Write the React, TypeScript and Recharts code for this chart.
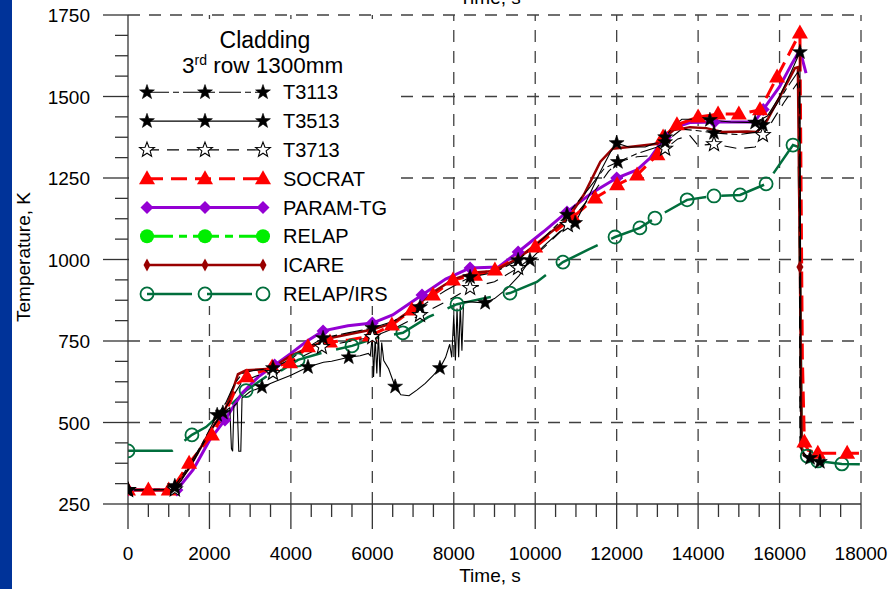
import React from "react";
import { LineChart, Line, XAxis, YAxis, ReferenceLine } from "recharts";

type Pt = [number, number];

// time (s), temperature (K)
const T3113: Pt[] = [
  [0, 293], [1100, 296], [1400, 350], [1800, 430], [2190, 523], [2400, 560], [2600, 615], [2800, 650],
  [3100, 660], [3560, 667], [4000, 695], [4400, 730], [4790, 759], [5400, 775], [6000, 790], [6500, 810],
  [7170, 854], [7800, 905], [8400, 946], [9000, 960], [9580, 998], [10200, 1065], [10780, 1137],
  [11300, 1215], [11700, 1280], [12030, 1299], [12500, 1325], [13000, 1345], [13190, 1360], [13600, 1400],
  [14000, 1395], [14390, 1388], [15000, 1383], [15400, 1390], [15590, 1413], [15900, 1470], [16200, 1530],
  [16450, 1575], [16490, 1560], [16510, 420], [16700, 392], [16900, 382],
];
const T3113_MARKS: Pt[] = [
  [0, 293], [1150, 305], [2190, 523], [3560, 667], [4790, 759], [6000, 790], [7170, 854], [8400, 946],
  [9580, 998], [10780, 1137], [12030, 1299], [13190, 1360], [14390, 1388], [15590, 1413],
];

const T3513: Pt[] = [
  [0, 293], [600, 293], [1100, 295], [1300, 320], [1600, 380], [2000, 470], [2330, 530], [2500, 545],
  [2540, 420], [2570, 412], [2600, 550], [2680, 560], [2720, 412], [2770, 412], [2800, 575], [3000, 595],
  [3290, 609], [3600, 625], [4000, 645], [4420, 670], [4800, 685], [5000, 688], [5420, 700], [5700, 705],
  [5900, 712], [5950, 705], [6000, 765], [6030, 640], [6070, 760], [6110, 650], [6150, 770], [6190, 640],
  [6230, 745], [6280, 690], [6400, 665], [6560, 610], [6700, 585], [6900, 582], [7100, 600], [7300, 620],
  [7500, 645], [7660, 667], [7800, 700], [7900, 740], [7950, 700], [8000, 830], [8040, 690], [8080, 850],
  [8120, 700], [8160, 860], [8200, 720], [8240, 870], [8400, 870], [8770, 867], [9000, 880], [9300, 910],
  [9600, 950], [9870, 998], [10200, 1040], [10600, 1085], [10980, 1112], [11300, 1190], [11600, 1270],
  [11850, 1330], [12000, 1357], [12300, 1345], [12700, 1345], [13000, 1360], [13190, 1375], [13400, 1410],
  [13600, 1430], [14000, 1430], [14290, 1428], [14800, 1422], [15400, 1420], [15700, 1440], [16000, 1500],
  [16300, 1580], [16500, 1636], [16530, 420], [16600, 398], [16750, 391], [16990, 379], [17100, 376],
];
const T3513_MARKS: Pt[] = [
  [0, 293], [1150, 300], [2330, 530], [3290, 609], [4420, 670], [5420, 700], [6560, 610], [7660, 667],
  [8770, 867], [9870, 998], [10980, 1112], [12000, 1357], [13190, 1375], [14290, 1428], [15400, 1420],
  [16500, 1636], [16750, 391], [16990, 379],
];

const T3713: Pt[] = [
  [0, 293], [1150, 295], [1600, 380], [2000, 470], [2500, 565], [2800, 625], [3200, 645], [3600, 652],
  [4000, 685], [4760, 732], [5400, 748], [6000, 762], [6600, 792], [7170, 830], [7800, 870], [8400, 913],
  [9000, 932], [9580, 974], [10200, 1035], [10800, 1106], [11400, 1200], [11800, 1270], [12030, 1299],
  [12500, 1315], [13000, 1320], [13500, 1370], [13800, 1380], [14000, 1350], [14390, 1354], [15000, 1340],
  [15400, 1345], [15590, 1382], [15800, 1420], [16100, 1480], [16430, 1540], [16480, 1500], [16500, 420],
  [16700, 388], [16850, 380],
];
const T3713_MARKS: Pt[] = [
  [0, 293], [1150, 295], [3560, 652], [4760, 732], [6000, 762], [7170, 830], [8400, 913], [9580, 974],
  [10800, 1106], [13190, 1340], [14390, 1354], [15590, 1382],
];

const SOCRAT: Pt[] = [
  [0, 293], [1000, 293], [1100, 300], [1500, 375], [2060, 462], [2500, 560], [2700, 620], [2920, 640],
  [3540, 670], [3980, 683], [4420, 732], [4960, 747], [5420, 753], [5940, 765], [6480, 799], [6970, 845],
  [7490, 891], [7980, 937], [8520, 952], [9010, 968], [10000, 1038], [10930, 1130], [11470, 1189],
  [12010, 1229], [12500, 1259], [13000, 1321], [13140, 1376], [13480, 1413], [14000, 1437], [14490, 1446],
  [15000, 1446], [15520, 1459], [15940, 1560], [16500, 1695], [16560, 700], [16610, 440], [16700, 415],
  [16940, 406], [17660, 406], [17950, 406],
];
const SOCRAT_MARKS: Pt[] = [
  [0, 293], [500, 293], [1000, 293], [1500, 375], [2060, 462], [2920, 640], [3540, 670], [3980, 683],
  [4420, 732], [4960, 747], [5940, 765], [6480, 799], [6970, 845], [7490, 891], [7980, 937], [8520, 952],
  [9010, 968], [10000, 1038], [10930, 1130], [11470, 1189], [12010, 1229], [12500, 1259], [13000, 1321],
  [13140, 1376], [13480, 1413], [14000, 1437], [14490, 1446], [15000, 1446], [15520, 1459], [15940, 1560],
  [16500, 1695], [16610, 440], [16940, 406], [17660, 406],
];

const PARAM_TG: Pt[] = [
  [0, 293], [1200, 293], [1600, 355], [2000, 445], [2380, 508], [2800, 590], [3200, 640], [3600, 676],
  [4000, 712], [4400, 750], [4790, 781], [5400, 797], [6000, 805], [6500, 830], [7220, 891], [7800, 940],
  [8400, 974], [9100, 977], [9580, 1023], [10200, 1085], [10780, 1146], [11400, 1205], [12000, 1250],
  [12500, 1275], [12820, 1311], [13100, 1360], [13380, 1403], [13800, 1420], [14500, 1422], [15350, 1422],
  [15450, 1434], [16000, 1530], [16300, 1600], [16500, 1643], [16650, 1572],
];
const PARAM_TG_MARKS: Pt[] = [
  [0, 293], [1200, 293], [2380, 508], [3600, 676], [4790, 781], [6000, 805], [7220, 891], [8400, 974],
  [9580, 1023], [10780, 1146], [12000, 1250], [13200, 1375], [14400, 1422], [15600, 1460],
];

const RELAP: Pt[] = [];
const RELAP_MARKS: Pt[] = [];

const ICARE: Pt[] = [
  [0, 293], [1100, 293], [1500, 360], [2000, 470], [2400, 545], [2600, 610], [2700, 648], [2900, 660],
  [3500, 665], [4000, 705], [5000, 760], [6000, 785], [6500, 805], [7000, 850], [7500, 900], [8000, 940],
  [8500, 960], [9000, 965], [9600, 1005], [10200, 1065], [10800, 1125], [11200, 1200], [11600, 1300],
  [11900, 1340], [12300, 1345], [13000, 1355], [13400, 1397], [13800, 1406], [14200, 1403], [14600, 1391],
  [15200, 1393], [15450, 1391], [15700, 1428], [16000, 1498], [16380, 1587], [16450, 1590], [16500, 977],
  [16540, 420], [16600, 400], [16800, 390],
];
const ICARE_MARKS: Pt[] = [[16500, 977]];

const RELAP_IRS: Pt[] = [
  [0, 413], [1080, 413], [1570, 462], [1915, 486], [2400, 540], [2900, 598], [3500, 650], [3780, 661],
  [4175, 692], [4800, 715], [5500, 735], [6100, 760], [6750, 775], [7370, 823], [8080, 863], [8700, 880],
  [9380, 897], [10040, 931], [10680, 992], [11300, 1030], [11960, 1069], [12570, 1097], [12940, 1127],
  [13730, 1183], [14390, 1195], [15030, 1198], [15670, 1232], [16330, 1351], [16470, 1345], [16550, 420],
  [16680, 397], [16940, 382], [17530, 373], [18000, 372],
];
const RELAP_IRS_MARKS: Pt[] = [
  [0, 413], [1570, 462], [2900, 598], [4175, 692], [5500, 735], [6750, 775], [8080, 863], [9380, 897],
  [10680, 992], [11960, 1069], [12570, 1097], [12940, 1127], [13730, 1183], [14390, 1195], [15030, 1198],
  [15670, 1232], [16330, 1351], [16680, 397], [16940, 382], [17530, 373],
];

const X_MAJOR = [0, 2000, 4000, 6000, 8000, 10000, 12000, 14000, 16000, 18000];
const Y_MAJOR = [250, 500, 750, 1000, 1250, 1500, 1750];
const X_TICKS = Array.from({ length: 37 }, (_, i) => i * 500);
const Y_TICKS = Array.from({ length: 25 }, (_, i) => 250 + i * 62.5);

const FONT = "Arial, 'Liberation Sans', sans-serif";
const AXIS = "#333";
const GRID = "#404040";

type MarkKind = "star" | "starOpen" | "tri" | "diamond" | "dot" | "thinDiamond" | "ring";

interface Series {
  name: string;
  data: Pt[];
  marks: Pt[];
  color: string;
  width: number;
  dash?: string;
  mark: MarkKind;
}

const SERIES: Series[] = [
  { name: "T3113", data: T3113, marks: T3113_MARKS, color: "#000", width: 1.1, dash: "22 4 6 4", mark: "star" },
  { name: "T3513", data: T3513, marks: T3513_MARKS, color: "#000", width: 1.1, mark: "star" },
  { name: "T3713", data: T3713, marks: T3713_MARKS, color: "#000", width: 1.1, dash: "12 8", mark: "starOpen" },
  { name: "SOCRAT", data: SOCRAT, marks: SOCRAT_MARKS, color: "#ff0000", width: 3, dash: "16 8", mark: "tri" },
  { name: "PARAM-TG", data: PARAM_TG, marks: PARAM_TG_MARKS, color: "#9400d3", width: 3, mark: "diamond" },
  { name: "RELAP", data: RELAP, marks: RELAP_MARKS, color: "#00ee00", width: 3, dash: "26 6 8 6", mark: "dot" },
  { name: "ICARE", data: ICARE, marks: ICARE_MARKS, color: "#990000", width: 2.5, mark: "thinDiamond" },
  { name: "RELAP/IRS", data: RELAP_IRS, marks: RELAP_IRS_MARKS, color: "#006e3c", width: 2.5, dash: "45 15", mark: "ring" },
];

// drawing order: models under experiments
const DRAW_ORDER = ["RELAP/IRS", "RELAP", "PARAM-TG", "SOCRAT", "ICARE", "T3713", "T3113", "T3513"];

const rows = (pts: Pt[]) => pts.map(([t, k]) => ({ t, k }));

function starPath(cx: number, cy: number, R: number, r: number) {
  let d = "";
  for (let i = 0; i < 10; i++) {
    const a = -Math.PI / 2 + (i * Math.PI) / 5;
    const rad = i % 2 === 0 ? R : r;
    d += (i === 0 ? "M" : "L") + (cx + rad * Math.cos(a)).toFixed(2) + "," + (cy + rad * Math.sin(a)).toFixed(2);
  }
  return d + "Z";
}

function Marker({ kind, cx, cy, color }: { kind: MarkKind; cx: number; cy: number; color: string }) {
  if (cx == null || cy == null || isNaN(cx) || isNaN(cy)) return <g />;
  switch (kind) {
    case "star":
      return <path d={starPath(cx, cy, 7.8, 3.1)} fill="#000" stroke="#000" strokeWidth={0.6} />;
    case "starOpen":
      return <path d={starPath(cx, cy, 7.8, 3.3)} fill="#fff" stroke="#000" strokeWidth={1.1} />;
    case "tri":
      return <polygon points={`${cx},${cy - 8.5} ${cx + 8},${cy + 5.5} ${cx - 8},${cy + 5.5}`} fill={color} />;
    case "diamond":
      return <polygon points={`${cx},${cy - 6.5} ${cx + 6.5},${cy} ${cx},${cy + 6.5} ${cx - 6.5},${cy}`} fill={color} />;
    case "dot":
      return <circle cx={cx} cy={cy} r={7} fill={color} />;
    case "thinDiamond":
      return <polygon points={`${cx},${cy - 6.5} ${cx + 3.5},${cy} ${cx},${cy + 6.5} ${cx - 3.5},${cy}`} fill={color} />;
    case "ring":
      return <circle cx={cx} cy={cy} r={6.5} fill="none" stroke={color} strokeWidth={1.8} />;
  }
  return <g />;
}

const XTick = (p: any) => {
  const v = p.payload.value;
  const major = v % 2000 === 0;
  return (
    <g>
      <line x1={p.x} x2={p.x} y1={p.y} y2={p.y + (major ? 25 : 13)} stroke={AXIS} strokeWidth={1.3} />
      {major && (
        <text x={p.x} y={p.y + 56} textAnchor="middle" fontSize={19} fill="#000" fontFamily={FONT}>
          {v}
        </text>
      )}
    </g>
  );
};

const YTick = (p: any) => {
  const v = p.payload.value;
  const major = v % 250 === 0;
  return (
    <g>
      <line x1={p.x - (major ? 25 : 13)} x2={p.x} y1={p.y} y2={p.y} stroke={AXIS} strokeWidth={1.3} />
      {major && (
        <text x={p.x - 38} y={p.y + 7} textAnchor="end" fontSize={19} fill="#000" fontFamily={FONT}>
          {v}
        </text>
      )}
    </g>
  );
};

function LegendBox() {
  const x0 = 147, x1 = 205, x2 = 263;
  return (
    <svg width={888} height={589} style={{ position: "absolute", left: 0, top: 0, pointerEvents: "none" }}>
      <rect x={129} y={19} width={270} height={287} fill="#fff" />
      <text x={265} y={48} textAnchor="middle" fontSize={23} fontFamily={FONT} fill="#000">Cladding</text>
      <text x={182} y={73} fontSize={22.5} fontFamily={FONT} fill="#000">
        3<tspan fontSize={14} dy={-8}>rd</tspan>
        <tspan dy={8}> row 1300mm</tspan>
      </text>
      {SERIES.map((s, i) => {
        const y = 92.3 + i * 28.8;
        return (
          <g key={s.name}>
            <line x1={x0} x2={x2} y1={y} y2={y} stroke={s.color} strokeWidth={s.width} strokeDasharray={s.dash} />
            {[x0, x1, x2].map((x) => (
              <Marker key={x} kind={s.mark} cx={x} cy={y} color={s.color} />
            ))}
            <text x={283} y={y + 7} fontSize={20} fontFamily={FONT} fill="#000">{s.name}</text>
          </g>
        );
      })}
      <text x={490} y={3.5} textAnchor="middle" fontSize={19} fontFamily={FONT} fill="#000">Time, s</text>
      <text x={490} y={582} textAnchor="middle" fontSize={19} fontFamily={FONT} fill="#000">Time, s</text>
      <text transform="translate(29.5,257) rotate(-90)" textAnchor="middle" fontSize={19} fontFamily={FONT} fill="#000">
        Temperature, K
      </text>
    </svg>
  );
}

export default function App() {
  const ordered = DRAW_ORDER.map((n) => SERIES.find((s) => s.name === n)!);
  return (
    <div style={{ position: "absolute", left: 0, top: 0, width: 888, height: 589, background: "#fff", overflow: "hidden" }}>
      <div style={{ position: "absolute", left: 0, top: 0, width: 12, height: 589, background: "#003399" }} />
      <div style={{ position: "absolute", left: 0, top: 0 }}>
        <LineChart width={888} height={589} margin={{ top: 15, right: 27, bottom: 0, left: 0 }}>
          <XAxis
            type="number"
            dataKey="t"
            domain={[0, 18000]}
            ticks={X_TICKS}
            interval={0}
            tick={(p: any) => <XTick {...p} />}
            tickLine={false}
            tickSize={0}
            tickMargin={0}
            axisLine={{ stroke: AXIS, strokeWidth: 1.3 }}
            height={85}
            allowDataOverflow
          />
          <YAxis
            type="number"
            dataKey="k"
            domain={[250, 1750]}
            ticks={Y_TICKS}
            interval={0}
            tick={(p: any) => <YTick {...p} />}
            tickLine={false}
            tickSize={0}
            tickMargin={0}
            axisLine={{ stroke: AXIS, strokeWidth: 1.3 }}
            width={128}
            allowDataOverflow
          />
          {X_MAJOR.filter((v) => v > 0).map((v) => (
            <ReferenceLine key={"gx" + v} x={v} stroke={GRID} strokeWidth={1.3} strokeDasharray="12 9" />
          ))}
          {Y_MAJOR.filter((v) => v > 250).map((v) => (
            <ReferenceLine key={"gy" + v} y={v} stroke={GRID} strokeWidth={1.3} strokeDasharray="12 9" />
          ))}
          {ordered.map((s) => (
            <Line
              key={s.name}
              data={rows(s.data)}
              dataKey="k"
              type="linear"
              stroke={s.color}
              strokeWidth={s.width}
              strokeDasharray={s.dash}
              dot={false}
              activeDot={false}
              isAnimationActive={false}
            />
          ))}
          {ordered.map((s) => (
            <Line
              key={s.name + "-m"}
              data={rows(s.marks)}
              dataKey="k"
              type="linear"
              stroke="none"
              activeDot={false}
              isAnimationActive={false}
              dot={(p: any) => <Marker key={s.name + p.index} kind={s.mark} cx={p.cx} cy={p.cy} color={s.color} />}
            />
          ))}
        </LineChart>
      </div>
      <LegendBox />
    </div>
  );
}
